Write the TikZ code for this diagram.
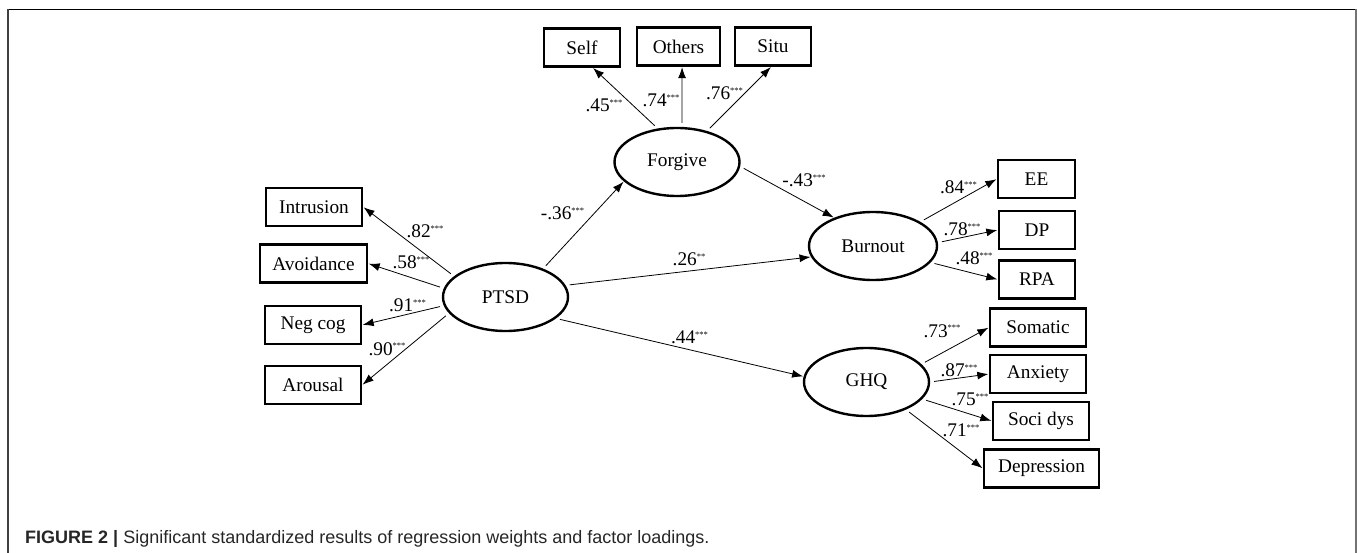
\documentclass[tikz,border=0pt]{standalone}
\usepackage{fontspec}
\setmainfont{Liberation Serif}
\newfontfamily\capfont{Liberation Sans}
\usetikzlibrary{shapes.geometric}
\usetikzlibrary{arrows.meta}

\tikzset{
    latent/.style={draw, ellipse, line width=2.4pt, minimum width=125pt, minimum height=68pt, inner sep=0pt},
    observed/.style={draw, rectangle, line width=2.4pt, minimum width=#1, minimum height=38pt, inner sep=0pt},
    link/.style={->, line width=0.8pt, shorten <=4pt, shorten >=0.5pt},
    weight/.style={anchor=base, inner sep=0pt}
}
\newcommand{\sig}[1]{\raisebox{6pt}{\fontsize{8.5}{8.5}\selectfont #1}}

\begin{document}
\begin{tikzpicture}[x=1pt, y=-1pt, font=\fontsize{19.3}{22}\selectfont, >={Latex[length=11pt,width=8pt]}]
        %Frame
            \useasboundingbox (0,0) rectangle (1357,553);
            \draw[line width=1.3pt] (8,9.5) -- (1355.5,9.5);
            \draw[line width=1.2pt, black!75] (8,9.5) -- (8,553);
            \draw[line width=2pt, black!55] (1355.5,9.5) -- (1355.5,553);
        %Latent factors
            \node[latent] (forgive) at (677,162) {Forgive};
            \node[latent] (ptsd) at (505.5,297) {PTSD};
            \node[latent, minimum width=128pt] (burnout) at (873,246) {Burnout};
            \node[latent] (ghq) at (866.5,382) {GHQ};
        %Forgiveness indicators
            \node[observed=76pt] (self) at (582,47.5) {Self};
            \node[observed=83pt] (others) at (678.5,46.5) {Others};
            \node[observed=76pt] (situ) at (773,46.5) {Situ};
        %PTSD indicators
            \node[observed=96pt] (intrusion) at (314,207) {Intrusion};
            \node[observed=107pt] (avoidance) at (313.5,263.5) {Avoidance};
            \node[observed=96pt] (negcog) at (313,325) {Neg cog};
            \node[observed=96pt] (arousal) at (313,385) {Arousal};
        %Burnout indicators
            \node[observed=77pt] (ee) at (1036.5,179) {EE};
            \node[observed=76pt] (dp) at (1037,230) {DP};
            \node[observed=76pt] (rpa) at (1037,279.5) {RPA};
        %GHQ indicators
            \node[observed=96pt] (somatic) at (1038,327.5) {Somatic};
            \node[observed=96pt] (anxiety) at (1038,374) {Anxiety};
            \node[observed=96pt] (socidys) at (1041,421) {Soci dys};
            \node[observed=115pt] (depression) at (1041.5,468.5) {Depression};
        %Loadings
            \foreach \ind/\ang/\tip/\val/\lx/\ly in {self/120/-62/.45/604/111.5, others/82/-80/.74/661/106.5, situ/46/-95/.76/724.5/100}
            {
                \draw[link] (forgive.\ang) -- (\ind.\tip);
                \node[weight] (w-\ind) at (\lx,\ly) {\val\sig{***}};
            }
            \foreach \ind/\ang/\val/\lx/\ly in {intrusion/158/.82/425/238, avoidance/172/.58/411/269, negcog/188/.91/407.5/311.5, arousal/196/.90/387/355}
            {
                \draw[link] (ptsd.\ang) -- (\ind.east);
                \node[weight] (w-\ind) at (\lx,\ly) {\val\sig{***}};
            }
            \foreach \ind/\ang/\val/\lx/\ly in {ee/27/.84/958.5/194, dp/3/.78/962/236, rpa/-16/.48/974/265}
            {
                \draw[link] (burnout.\ang) -- (\ind.west);
                \node[weight] (w-\ind) at (\lx,\ly) {\val\sig{***}};
            }
            \foreach \ind/\ang/\val/\lx/\ly in {somatic/18.6/.73/942/337, anxiety/0/.87/959/376, socidys/-17/.75/970/405, depression/-35/.71/961/436.5}
            {
                \draw[link] (ghq.\ang) -- (\ind.west);
                \node[weight] (w-\ind) at (\lx,\ly) {\val\sig{***}};
            }
        %Regression weights
            \draw[link] (ptsd.37) -- (forgive.-160);
            \node[weight] (w-pf) at (562.5,220) {-.36\sig{***}};
            \draw[link] (forgive.-4) -- (burnout.144);
            \node[weight] (w-fb) at (804,187) {-.43\sig{***}};
            \draw[link] (ptsd.11) -- (burnout.190);
            \node[weight] (w-pb) at (689,266) {.26\sig{**}};
            \draw[link] (ptsd.-23.5) -- (ghq.175);
            \node[weight] (w-pg) at (689.5,343) {.44\sig{***}};
        %Caption
            \node[anchor=base west, inner sep=0pt, text=black!85, font=\capfont\fontsize{18}{20}\selectfont] (caption) at (25,543.5) {\textbf{FIGURE 2 |} Significant standardized results of regression weights and factor loadings.};
    \end{tikzpicture}
\end{document}
